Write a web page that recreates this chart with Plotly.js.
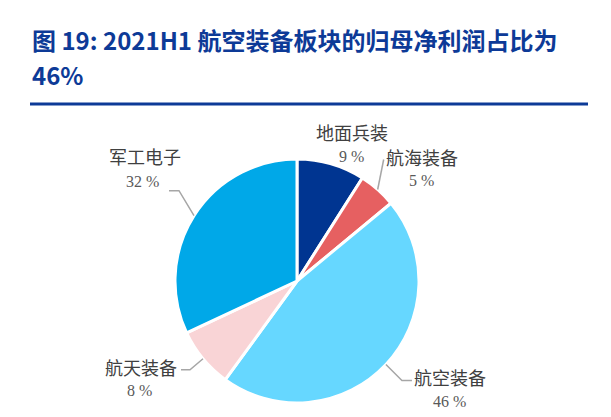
<!DOCTYPE html>
<html>
<head>
<meta charset="utf-8">
<script src="https://cdn.plot.ly/plotly-3.0.1.min.js"></script>
<style>html,body{margin:0;padding:0;background:#fff;}#chart{width:611px;height:417px;}</style>
</head>
<body>
<div id="chart"></div>
<script>
// ---- data ----
const categories = ['地面兵装', '航海装备', '航空装备', '航天装备', '军工电子'];
const shares = [9, 5, 46, 8, 32];
const sliceColors = ['#003591', '#e66061', '#66d7ff', '#f9d4d6', '#00a8e8'];
const titleLines = ['图 19: 2021H1 航空装备板块的归母净利润占比为', '46%'];

// ---- layout config (pixels) ----
const W = 611, H = 417;
const pie = { cx: 297, cy: 281, r: 122 };
const titleLineY = [40, 74];
// label name/percent offsets relative to slice-mid anchor on the rim, and leader path offsets
const labelCfg = [
  { name: [21, -32], pct: [20, -7], leader: null },
  { name: [44, -32], pct: [44, -9], leader: [[6, -30]] },
  { name: [64, 12], pct: [64, 37], leader: [[16, 16], [26, 16]] },
  { name: [-62, 8], pct: [-63, 32], leader: [[-13, 11], [-22, 11]] },
  { name: [-49, -60], pct: [-51, -34], leader: [[-15, -25], [-25, -25]] }
];

const px = x => x / W;
const py = y => 1 - y / H;

const total = shares.reduce((a, b) => a + b, 0);
const annotations = [];
const shapes = [];

titleLines.forEach((t, i) => {
  annotations.push({
    text: '<b>' + t + '</b>', xref: 'paper', yref: 'paper',
    x: px(30), y: py(titleLineY[i]), xanchor: 'left', yanchor: 'middle', showarrow: false,
    font: { family: 'Noto Sans CJK SC, sans-serif', size: 24, color: '#0d3a97' }
  });
});

let cum = 0;
shares.forEach((v, i) => {
  const a = 2 * Math.PI * (cum + v / 2) / total;
  cum += v;
  const ax = pie.cx + pie.r * Math.sin(a);
  const ay = pie.cy - pie.r * Math.cos(a);
  const c = labelCfg[i];
  annotations.push({
    text: categories[i], xref: 'paper', yref: 'paper',
    x: px(ax + c.name[0]), y: py(ay + c.name[1]),
    xanchor: 'center', yanchor: 'middle', showarrow: false,
    font: { family: 'Noto Sans CJK SC, sans-serif', size: 18, color: '#404040' }
  });
  annotations.push({
    text: v + ' %', xref: 'paper', yref: 'paper',
    x: px(ax + c.pct[0]), y: py(ay + c.pct[1]),
    xanchor: 'center', yanchor: 'middle', showarrow: false,
    font: { family: 'Liberation Serif, serif', size: 16, color: '#595959' }
  });
  if (c.leader) {
    let d = 'M ' + px(ax) + ' ' + py(ay);
    c.leader.forEach(p => { d += ' L ' + px(ax + p[0]) + ' ' + py(ay + p[1]); });
    shapes.push({ type: 'path', xref: 'paper', yref: 'paper', path: d,
      line: { color: '#a6a6a6', width: 1.5 } });
  }
});

// title rule
shapes.push({ type: 'line', xref: 'paper', yref: 'paper',
  x0: px(30), x1: px(588), y0: py(104), y1: py(104),
  line: { color: '#0d3a97', width: 3 } });

const data = [{
  type: 'pie',
  labels: categories,
  values: shares,
  sort: false,
  direction: 'clockwise',
  rotation: 0,
  textinfo: 'none',
  hoverinfo: 'none',
  marker: { colors: sliceColors, line: { color: '#ffffff', width: 3 } },
  domain: { x: [px(pie.cx - pie.r), px(pie.cx + pie.r)], y: [py(pie.cy + pie.r), py(pie.cy - pie.r)] }
}];

const layout = {
  width: W, height: H,
  margin: { l: 0, r: 0, t: 0, b: 0 },
  paper_bgcolor: '#ffffff',
  showlegend: false,
  annotations: annotations,
  shapes: shapes
};

Plotly.newPlot('chart', data, layout, { displayModeBar: false, staticPlot: true });
</script>
</body>
</html>
